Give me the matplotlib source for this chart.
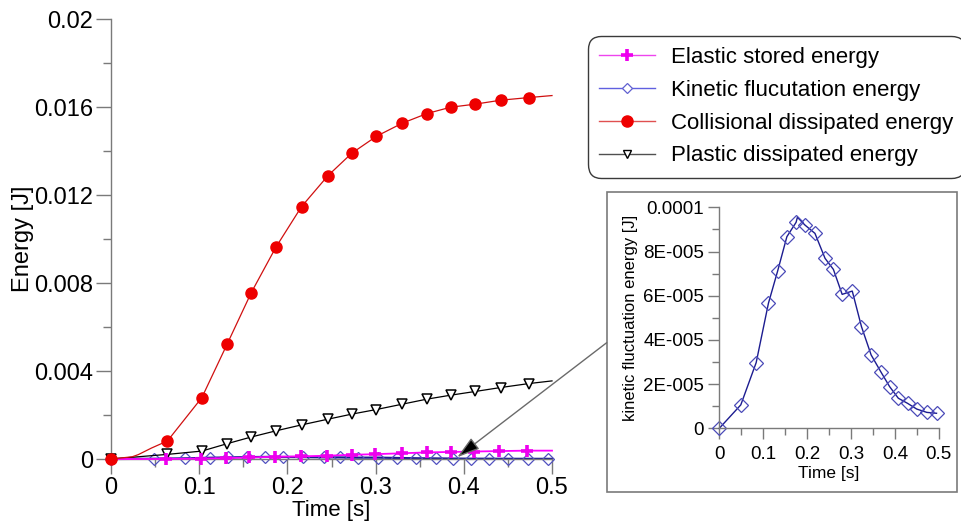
import matplotlib
matplotlib.use('Agg')
import matplotlib.pyplot as plt
from matplotlib.patches import Rectangle
from matplotlib.ticker import MultipleLocator, FixedLocator, FixedFormatter

plt.rcParams['font.family'] = ['Liberation Sans', 'DejaVu Sans']

# ---- data ----
# collisional dissipated energy (red, filled circles)
t_col = [0, 0.064, 0.103, 0.132, 0.159, 0.187, 0.216, 0.246, 0.273, 0.301,
         0.330, 0.358, 0.385, 0.413, 0.442, 0.474]
e_col = [0, 0.00082, 0.00279, 0.00525, 0.00756, 0.00963, 0.01147, 0.01288,
         0.01390, 0.01467, 0.01526, 0.01570, 0.01599, 0.01613, 0.01631, 0.01643]
t_col_end, e_col_end = 0.5, 0.01652
# extra points of the red curve between 0 and the first marker
t_col_start = [0.024, 0.031, 0.046]
e_col_start = [0.0001, 0.0002, 0.0005]

# plastic dissipated energy (black, open triangles)
t_pla = [0, 0.064, 0.103, 0.132, 0.159, 0.187, 0.216, 0.246, 0.273, 0.301,
         0.330, 0.358, 0.385, 0.413, 0.442, 0.474]
e_pla = [0, 0.00021, 0.00036, 0.00070, 0.00100, 0.00128, 0.00155, 0.00181,
         0.00204, 0.00225, 0.00249, 0.00272, 0.00290, 0.00307, 0.00325, 0.00343]
t_pla_end, e_pla_end = 0.5, 0.00355

# elastic stored energy (magenta, plus)
t_ela = [0.0625, 0.102, 0.130, 0.157, 0.186, 0.215, 0.245, 0.273, 0.299,
         0.330, 0.358, 0.385, 0.412, 0.440, 0.472]
e_ela = [0, 0.00002, 0.00004, 0.00007, 0.00010, 0.00012, 0.00015, 0.00019,
         0.00022, 0.00026, 0.00030, 0.00032, 0.00034, 0.00036, 0.00038]
t_ela_end, e_ela_end = 0.5, 0.00038

# kinetic fluctuation energy (blue, open diamonds)
t_kin = [0, 0.049, 0.084, 0.112, 0.133, 0.154, 0.175, 0.195, 0.218, 0.241,
         0.260, 0.280, 0.303, 0.324, 0.346, 0.368, 0.388, 0.408, 0.429,
         0.450, 0.473, 0.495]
e_kin = [0, 1.06e-5, 2.97e-5, 5.66e-5, 7.12e-5, 8.67e-5, 9.32e-5, 9.20e-5,
         8.82e-5, 7.69e-5, 7.19e-5, 6.06e-5, 6.21e-5, 4.60e-5, 3.32e-5,
         2.56e-5, 1.89e-5, 1.36e-5, 1.13e-5, 8.7e-6, 7.2e-6, 6.8e-6]
# peak of the inset curve (line only)
t_kin_peak, e_kin_peak = 0.178, 9.55e-5

labels = ['Elastic stored energy', 'Kinetic flucutation energy',
          'Collisional dissipated energy', 'Plastic dissipated energy']

main_yticks = [0, 0.004, 0.008, 0.012, 0.016, 0.02]
main_ylabels = ['0', '0.004', '0.008', '0.012', '0.016', '0.02']
xticks = [0, 0.1, 0.2, 0.3, 0.4, 0.5]
xlabels = ['0', '0.1', '0.2', '0.3', '0.4', '0.5']
ins_yticks = [0, 2e-5, 4e-5, 6e-5, 8e-5, 1e-4]
ins_ylabels = ['0', '2E-005', '4E-005', '6E-005', '8E-005', '0.0001']

W, H = 962, 524
fig = plt.figure(figsize=(W / 100, H / 100), dpi=100)
spine_c = '#7a7a7a'


def style_axes(ax, fs, ml, mn, pad):
    for s in ['top', 'right']:
        ax.spines[s].set_visible(False)
    for s in ['left', 'bottom']:
        ax.spines[s].set_color(spine_c)
        ax.spines[s].set_linewidth(1.0)
    ax.tick_params(which='major', direction='out', length=ml, width=1,
                   color=spine_c, labelsize=fs, pad=pad)
    ax.tick_params(which='minor', direction='out', length=mn, width=1,
                   color=spine_c)


# ---- inset frame (drawn first, below everything) ----
frame = Rectangle((607 / W, 1 - 492 / H), 350 / W, 300 / H,
                  transform=fig.transFigure, fill=True, fc='white',
                  ec='#7a7a7a', lw=1.2, zorder=-5)
fig.patches.append(frame)

# ---- main axes ----
ax = fig.add_axes([111 / W, 1 - 459 / H, 441 / W, 440 / H])
ax.patch.set_alpha(0)
ax.set_xlim(0, 0.5)
ax.set_ylim(0, 0.02)

kin_line_t = t_kin[:7] + [t_kin_peak] + t_kin[7:]
kin_line_e = e_kin[:7] + [e_kin_peak] + e_kin[7:]
col_line_t = [0] + t_col_start + t_col[1:] + [t_col_end]
col_line_e = [0] + e_col_start + e_col[1:] + [e_col_end]

ax.plot(col_line_t, col_line_e, color='#d01010', lw=0.9, zorder=4,
        clip_on=False)
ax.plot(t_col, e_col, ls='none', marker='o', ms=8, mfc='#ee0000',
        mec='#ee0000', clip_on=False, zorder=4)
ax.plot(t_pla + [t_pla_end], e_pla + [e_pla_end], color='black', lw=0.9,
        marker='v', ms=7, mfc='white', mec='black', mew=1.1,
        markevery=list(range(len(t_pla))), clip_on=False, zorder=3)
ax.plot([0] + t_ela + [t_ela_end], [0] + e_ela + [e_ela_end],
        color='#ff00ff', lw=1.3, marker='+', ms=9, mec='#ee00ee', mew=2.6,
        markevery=list(range(1, len(t_ela) + 1)), clip_on=False, zorder=3)
ax.plot(kin_line_t + [0.5], kin_line_e + [e_kin[-1]], color='#1c1c90', lw=1.6,
        zorder=2, clip_on=False)
ax.plot(t_kin, e_kin, ls='none', marker='D', ms=6, mfc='none', mec='#5050c0',
        mew=0.9, clip_on=False, zorder=2)

ax.yaxis.set_major_locator(FixedLocator(main_yticks))
ax.yaxis.set_major_formatter(FixedFormatter(main_ylabels))
ax.yaxis.set_minor_locator(MultipleLocator(0.002))
ax.xaxis.set_major_locator(FixedLocator(xticks))
ax.xaxis.set_major_formatter(FixedFormatter(xlabels))
ax.xaxis.set_minor_locator(MultipleLocator(0.05))
style_axes(ax, 17, 11, 5.5, 2)
ax.set_xlabel('Time [s]', fontsize=16, labelpad=1)
ax.set_ylabel('Energy [J]', fontsize=17, labelpad=0)

# ---- legend ----
h_ela, = ax.plot([], [], color='#ee44ee', lw=1, marker='+', ms=8,
                 mec='#ee00ee', mew=2.6)
h_kin, = ax.plot([], [], color='#6060e0', lw=1, marker='D', ms=5,
                 mfc='white', mec='#6060d0', mew=0.9)
h_col, = ax.plot([], [], color='#e05050', lw=1, marker='o', ms=8,
                 mfc='#ee0000', mec='#ee0000')
h_pla, = ax.plot([], [], color='#505050', lw=1, marker='v', ms=6,
                 mfc='white', mec='black', mew=1)
leg = fig.legend([h_ela, h_kin, h_col, h_pla], labels, loc='upper left',
                 bbox_to_anchor=(588 / W, 1 - 36 / H), fontsize=16,
                 handlelength=2.5, handletextpad=0.75, labelspacing=0.53,
                 borderpad=0.5, borderaxespad=0, fancybox=True,
                 framealpha=1, edgecolor='#3a3a3a')
leg.get_frame().set_boxstyle('round,pad=0,rounding_size=0.6')
leg.get_frame().set_linewidth(1.0)

# ---- inset axes ----
ins = fig.add_axes([719.3 / W, 1 - 428.3 / H, 219.4 / W, 221 / H])
ins.patch.set_alpha(0)
ins.set_xlim(0, 0.5)
ins.set_ylim(0, 0.0001)
ins.plot(kin_line_t, kin_line_e, color='#1c1c90', lw=1.0, clip_on=False)
ins.plot(t_kin, e_kin, ls='none', marker='D', ms=7, mfc='none',
         mec='#4a4ab8', mew=0.9, clip_on=False)
ins.yaxis.set_major_locator(FixedLocator(ins_yticks))
ins.yaxis.set_major_formatter(FixedFormatter(ins_ylabels))
ins.yaxis.set_minor_locator(MultipleLocator(1e-5))
ins.xaxis.set_major_locator(FixedLocator(xticks))
ins.xaxis.set_major_formatter(FixedFormatter(xlabels))
ins.xaxis.set_minor_locator(MultipleLocator(0.05))
style_axes(ins, 13.5, 8, 5, 3)
ins.tick_params(axis='x', which='major', pad=5)
ins.set_xlabel('Time [s]', fontsize=12.5, labelpad=2)
ins.set_ylabel('kinetic fluctuation energy [J]', fontsize=12, labelpad=4)

# ---- connector arrow ----
ax.annotate('', xy=(0.3926, 0.00008), xycoords='data',
            xytext=(606.7, H - 342.7), textcoords='figure pixels',
            arrowprops=dict(arrowstyle='-|>,head_length=1.0,head_width=0.3',
                            mutation_scale=14, ec='#6a6a6a', fc='black',
                            lw=1.0, shrinkA=0, shrinkB=0),
            annotation_clip=False)

fig.savefig('out.png', dpi=100)
